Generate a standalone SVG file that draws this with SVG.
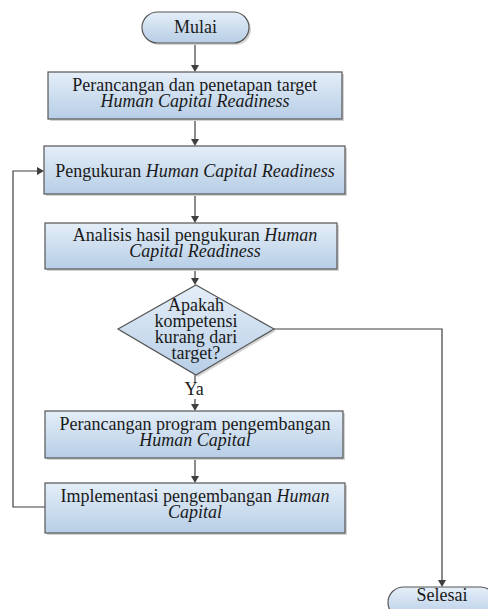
<svg xmlns="http://www.w3.org/2000/svg" width="488" height="609" viewBox="0 0 488 609">
<defs>
<linearGradient id="g" x1="0" y1="0" x2="0" y2="1">
<stop offset="0" stop-color="#e4eef8"/>
<stop offset="1" stop-color="#b7cee6"/>
</linearGradient>
</defs>
<style>
text{font-size:18px;fill:#1a1a1a}
.shape{fill:url(#g);stroke:#555;stroke-width:1.2}
.sh{fill:#d4d4d4}
.c{fill:none;stroke:#3f3f3f;stroke-width:1.2}
.ah{fill:#3f3f3f}
</style>
<rect width="488" height="609" fill="#fff"/>
<g id="connectors">
<line class="c" x1="195" y1="43" x2="195" y2="66"/>
<polygon class="ah" points="191,65 199,65 195,72"/>
<line class="c" x1="195" y1="119" x2="195" y2="140"/>
<polygon class="ah" points="191,139 199,139 195,146"/>
<line class="c" x1="195" y1="194" x2="195" y2="217"/>
<polygon class="ah" points="191,216 199,216 195,223"/>
<line class="c" x1="195" y1="269" x2="195" y2="279"/>
<polygon class="ah" points="191,278 199,278 195,285"/>
<line class="c" x1="195" y1="375" x2="195" y2="382"/>
<line class="c" x1="195" y1="399" x2="195" y2="405"/>
<polygon class="ah" points="191,404 199,404 195,411"/>
<line class="c" x1="195" y1="458" x2="195" y2="477"/>
<polygon class="ah" points="191,476 199,476 195,483"/>
<polyline class="c" points="45,507 13,507 13,171 38,171"/>
<polygon class="ah" points="37,167 37,175 44,171"/>
<polyline class="c" points="274,329 442,329 442,581"/>
<polygon class="ah" points="438,580 446,580 442,587"/>
<text font-family="Times New Roman" x="184.5" y="395">Ya</text>
</g>
<g id="mulai">
<rect class="sh" x="144" y="14" width="107" height="31" rx="15.5"/>
<rect class="shape" x="142" y="12" width="107" height="31" rx="15.5"/>
<text font-family="Times New Roman" x="174" y="33">Mulai</text>
</g>
<g id="perancangan-target">
<rect class="sh" x="50" y="74" width="294" height="47"/>
<rect class="shape" x="48" y="72" width="294" height="47"/>
<text font-family="Times New Roman" x="72.3" y="91">Perancangan dan penetapan target</text>
<text font-family="Times New Roman" font-style="italic" x="100.5" y="107">Human Capital Readiness</text>
</g>
<g id="pengukuran">
<rect class="sh" x="46" y="148" width="301" height="48"/>
<rect class="shape" x="44" y="146" width="301" height="48"/>
<text font-family="Times New Roman" x="55.3" y="177">Pengukuran <tspan font-style="italic">Human Capital Readiness</tspan></text>
</g>
<g id="analisis">
<rect class="sh" x="47" y="225" width="292" height="46"/>
<rect class="shape" x="45" y="223" width="292" height="46"/>
<text font-family="Times New Roman" x="72.8" y="241">Analisis hasil pengukuran <tspan font-style="italic">Human</tspan></text>
<text font-family="Times New Roman" font-style="italic" x="129.2" y="257">Capital Readiness</text>
</g>
<g id="keputusan">
<polygon class="sh" points="198,287 276,331 198,377 120,331"/>
<polygon class="shape" points="196,285 274,329 196,375 118,329"/>
<text font-family="Times New Roman" x="168" y="311">Apakah</text>
<text font-family="Times New Roman" x="154.5" y="327">kompetensi</text>
<text font-family="Times New Roman" x="154.8" y="343">kurang dari</text>
<text font-family="Times New Roman" x="171.5" y="359">target?</text>
</g>
<g id="perancangan-program">
<rect class="sh" x="47" y="413" width="298" height="47"/>
<rect class="shape" x="45" y="411" width="298" height="47"/>
<text font-family="Times New Roman" x="59.5" y="430">Perancangan program pengembangan</text>
<text font-family="Times New Roman" font-style="italic" x="139.2" y="446">Human Capital</text>
</g>
<g id="implementasi">
<rect class="sh" x="47" y="485" width="300" height="50"/>
<rect class="shape" x="45" y="483" width="300" height="50"/>
<text font-family="Times New Roman" x="60.5" y="502">Implementasi pengembangan <tspan font-style="italic">Human</tspan></text>
<text font-family="Times New Roman" font-style="italic" x="168" y="518">Capital</text>
</g>
<g id="selesai">
<rect class="sh" x="390" y="589" width="108" height="31" rx="15.5"/>
<rect class="shape" x="388" y="587" width="108" height="31" rx="15.5"/>
<text font-family="Times New Roman" x="416.5" y="601">Selesai</text>
</g>
</svg>
